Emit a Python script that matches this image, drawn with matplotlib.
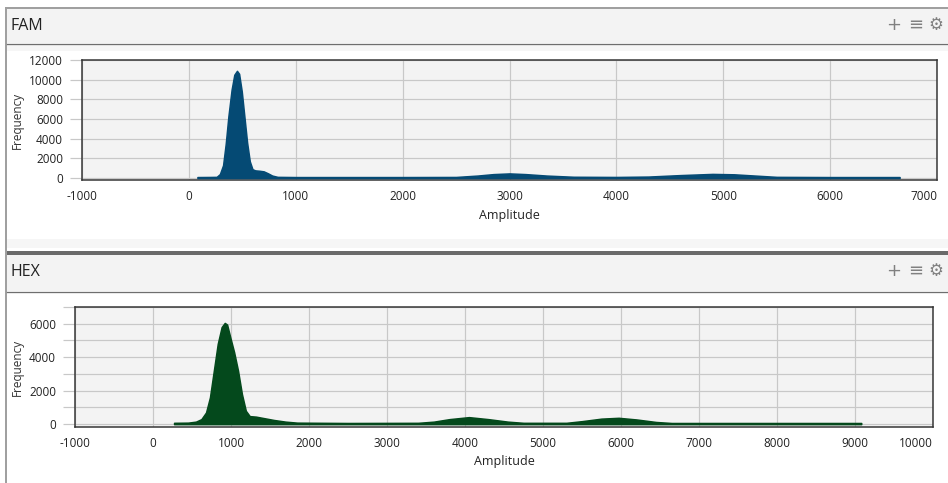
import matplotlib
matplotlib.use('Agg')
import matplotlib.pyplot as plt
from matplotlib.patches import Rectangle

plt.rcParams['font.family'] = ['Open Sans', 'DejaVu Sans']

# FAM channel histogram (amplitude, frequency)
fam_amp = [80, 200, 260, 290, 320, 345, 370, 400, 425, 450, 470, 495, 520, 545, 570,
           595, 620, 660, 700, 740, 780, 830, 1000, 2000, 2500, 2700, 2850, 3000, 3150,
           3350, 3600, 4000, 4300, 4600, 4900, 5100, 5300, 5500, 6000, 6650]
fam_freq = [100, 110, 120, 400, 1300, 3500, 6300, 9000, 10500, 10900, 10600, 8800, 6200,
            3600, 1700, 900, 780, 740, 680, 480, 250, 120, 100, 100, 110, 250, 400, 470,
            400, 250, 130, 110, 150, 300, 420, 380, 250, 120, 100, 100]

# HEX channel histogram
hex_amp = [270, 450, 550, 620, 680, 730, 780, 830, 880, 920, 950, 990, 1040, 1090, 1140,
           1190, 1240, 1320, 1400, 1550, 1700, 1850, 2500, 3400, 3600, 3800, 4050, 4300,
           4550, 4750, 5300, 5500, 5750, 5970, 6200, 6450, 6650, 9080]
hex_freq = [80, 90, 150, 300, 700, 1600, 3200, 4800, 5800, 6050, 5950, 5200, 4300, 3200,
            1800, 800, 480, 450, 380, 250, 150, 90, 70, 80, 150, 300, 420, 300, 150, 80,
            80, 180, 330, 380, 280, 130, 70, 70]

W, H = 948, 483
fig = plt.figure(figsize=(W / 100, H / 100), dpi=100)

# background panel chrome in pixel coordinates
bg = fig.add_axes([0, 0, 1, 1], zorder=0)
bg.set_xlim(0, W)
bg.set_ylim(H, 0)
bg.axis('off')
px = 0.72  # 1 pixel in points

bg.plot([6, W], [8, 8], color='#a0a0a0', lw=2 * px)
bg.plot([6.5, 6.5], [8, H], color='#a0a0a0', lw=2 * px)
bg.add_patch(Rectangle((7, 9), W - 7, 34, fc='#f3f3f3', ec='none'))
bg.plot([7, W], [43.5, 43.5], color='#6e6e6e', lw=1.3 * px)
bg.add_patch(Rectangle((7, 44), W - 7, 7, fc='#f6f6f6', ec='none'))
bg.add_patch(Rectangle((7, 239), W - 7, 9, fc='#f6f6f6', ec='none'))
bg.add_patch(Rectangle((7, 251), W - 7, 4, fc='#6a6a6a', ec='none'))
bg.add_patch(Rectangle((7, 255), W - 7, 36, fc='#f3f3f3', ec='none'))
bg.plot([7, W], [291.5, 291.5], color='#6e6e6e', lw=1.3 * px)

for title, ty, fy, ay, cx in [('FAM', 26, 120, 215, 509), ('HEX', 272, 367, 462, 504)]:
    bg.text(11, ty, title, fontsize=11.5, color='#222222', va='center', ha='left')
    bg.text(894, ty - 1, '+', fontsize=13, color='#808080', va='center', ha='center',
            family=['DejaVu Sans'])
    bg.text(916, ty - 1, '≡', fontsize=13, color='#808080', va='center', ha='center',
            family=['DejaVu Sans'])
    bg.text(936, ty - 1, '⚙', fontsize=12, color='#808080', va='center', ha='center',
            family=['DejaVu Sans'])
    bg.text(17, fy, 'Frequency', fontsize=8.5, color='#333333', rotation=90,
            va='center', ha='center')
    bg.text(cx, ay, 'Amplitude', fontsize=9, color='#222222', va='center', ha='center')


def panel(rect_px, amp, freq, color, xlim, xticks, ylim, yticks, ylabels):
    l, r, t, b = rect_px
    ax = fig.add_axes([l / W, 1 - b / H, (r - l) / W, (b - t) / H], zorder=1)
    ax.set_facecolor('#f3f3f3')
    ax.fill_between(amp, 0, freq, color=color, lw=1.5 * px, edgecolor=color, zorder=3)
    ax.set_xlim(*xlim)
    ax.set_ylim(*ylim)
    ax.set_xticks(xticks)
    ax.set_xticklabels([str(v) for v in xticks])
    ax.set_yticks(yticks)
    ax.set_yticklabels(ylabels)
    ax.grid(True, color='#c8c8c8', lw=1.2 * px, zorder=1)
    ax.set_axisbelow(True)
    ax.tick_params(axis='x', length=0, pad=7, labelsize=8.5, labelcolor='#222222')
    ax.tick_params(axis='y', length=12 * px, width=1.2 * px, color='#c8c8c8', pad=5,
                   labelsize=8.5, labelcolor='#222222')
    # last label sits at the right edge of the figure; keep it inside
    ax.get_xticklabels()[-1].set_horizontalalignment('right')
    for s in ax.spines.values():
        s.set_color('#333333')
        s.set_linewidth(1.5 * px)
    return ax


panel((82, 937, 60, 180), fam_amp, fam_freq, '#054a74', (-1000, 7000),
      list(range(-1000, 7001, 1000)), (-200, 12000), list(range(0, 12001, 2000)),
      [str(v) for v in range(0, 12001, 2000)])

panel((75, 933, 307, 427), hex_amp, hex_freq, '#04491c', (-1000, 10000),
      list(range(-1000, 10001, 1000)), (-170, 7000), list(range(0, 7001, 1000)),
      [str(v) if v % 2000 == 0 else '' for v in range(0, 7001, 1000)])

plt.savefig('out.png', dpi=100)
